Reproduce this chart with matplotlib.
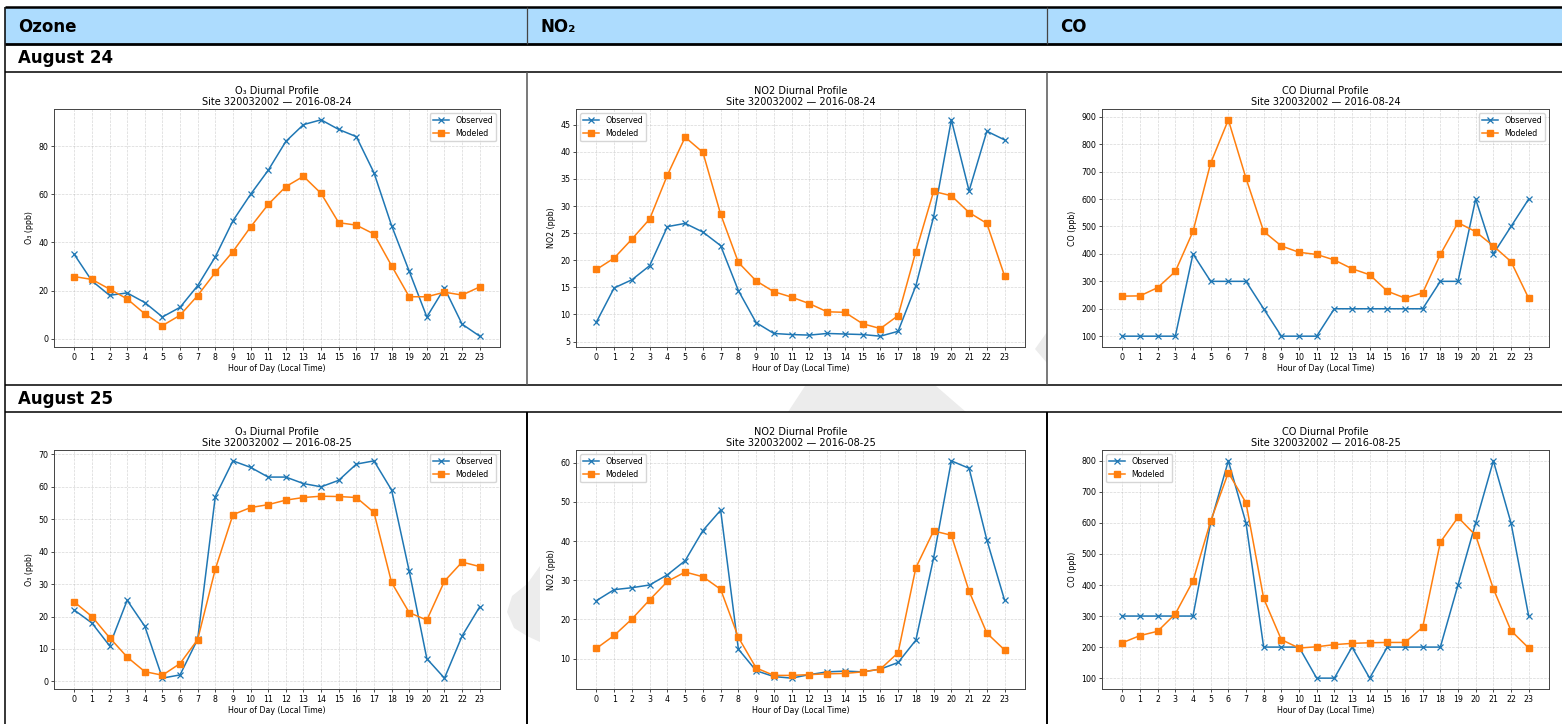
import matplotlib
matplotlib.use("Agg")
import matplotlib.pyplot as plt
from matplotlib.lines import Line2D
from matplotlib.patches import Rectangle, Polygon

# ---------------------------------------------------------------- data
hours = list(range(24))
site_id = "320032002"
dates = ["2016-08-24", "2016-08-25"]
day_labels = ["August 24", "August 25"]
column_headers = ["Ozone", "NO\u2082", "CO"]
species_titles = ["O\u2083", "NO2", "CO"]
y_labels = ["O\u2083 (ppb)", "NO2 (ppb)", "CO (ppb)"]
legend_locs = [["upper right", "upper left", "upper right"],
               ["upper right", "upper left", "upper left"]]

o3_obs_0824 = [35, 24, 18, 19, 15, 9, 13, 22, 34, 49, 60, 70, 82, 89, 91, 87,
               84, 69, 47, 28, 9, 21, 6, 1]
o3_mod_0824 = [25.8, 24.6, 20.6, 16.5, 10.3, 5.4, 9.7, 17.9, 27.5, 36.2, 46.4,
               55.8, 63.2, 67.5, 60.4, 48.2, 47.2, 43.5, 30.3, 17.4, 17.4, 19.3,
               18.1, 21.5]
no2_obs_0824 = [8.6, 14.9, 16.4, 19.0, 26.2, 26.8, 25.2, 22.7, 14.4, 8.5, 6.5,
                6.3, 6.2, 6.5, 6.4, 6.3, 6.0, 6.9, 15.3, 28.0, 45.9, 32.8, 43.8,
                42.2]
no2_mod_0824 = [18.3, 20.4, 23.9, 27.6, 35.7, 42.7, 39.9, 28.5, 19.6, 16.2, 14.2,
                13.2, 12.0, 10.5, 10.4, 8.3, 7.4, 9.8, 21.6, 32.7, 31.9, 28.8,
                26.8, 17.1]
co_obs_0824 = [100, 100, 100, 100, 400, 300, 300, 300, 200, 100, 100, 100, 200,
               200, 200, 200, 200, 200, 300, 300, 600, 400, 500, 600]
co_mod_0824 = [246, 247, 277, 336, 482, 731, 889, 676, 482, 429, 406, 398, 378,
               346, 324, 264, 239, 258, 398, 514, 481, 429, 372, 238]

o3_obs_0825 = [22, 18, 11, 25, 17, 1, 2, 13, 57, 68, 66, 63, 63, 61, 60, 62, 67,
               68, 59, 34, 7, 1, 14, 23]
o3_mod_0825 = [24.5, 20.0, 13.5, 7.5, 3.0, 1.9, 5.5, 12.9, 34.6, 51.4, 53.6,
               54.5, 55.9, 56.7, 57.1, 57.0, 56.7, 52.1, 30.5, 21.2, 18.9, 30.9,
               36.8, 35.4]
no2_obs_0825 = [24.8, 27.6, 28.1, 28.8, 31.4, 35.0, 42.7, 47.9, 12.4, 6.9, 5.4,
                5.0, 5.9, 6.6, 6.8, 6.6, 7.3, 9.0, 14.7, 35.7, 60.5, 58.6, 40.3,
                24.9]
no2_mod_0825 = [12.6, 15.9, 20.1, 25.0, 29.7, 32.1, 30.9, 27.7, 15.4, 7.6, 5.7,
                5.7, 5.9, 6.1, 6.2, 6.6, 7.3, 11.5, 33.2, 42.6, 41.5, 27.2, 16.5,
                12.2]
co_obs_0825 = [300, 300, 300, 300, 300, 600, 800, 600, 200, 200, 200, 100, 100,
               200, 100, 200, 200, 200, 200, 400, 600, 800, 600, 300]
co_mod_0825 = [214, 237, 251, 307, 413, 606, 762, 665, 357, 224, 197, 201, 208,
               212, 214, 215, 215, 264, 538, 618, 560, 388, 253, 197]

observed = [[o3_obs_0824, no2_obs_0824, co_obs_0824],
            [o3_obs_0825, no2_obs_0825, co_obs_0825]]
modeled = [[o3_mod_0824, no2_mod_0824, co_mod_0824],
           [o3_mod_0825, no2_mod_0825, co_mod_0825]]

# ---------------------------------------------------------------- layout
W, H = 1562, 724
fig = plt.figure(figsize=(W / 100, H / 100), dpi=100)
fig.patch.set_facecolor("white")

# page layer in pixel coordinates (table, headings, watermark)
page = fig.add_axes([0, 0, 1, 1], zorder=-1)
page.set_xlim(0, W)
page.set_ylim(H, 0)
page.axis("off")

# faint watermark fragments showing between the chart images
wm = "#ececec"
page.add_patch(Polygon([(788, 412), (805, 386), (936, 386), (966, 412)],
                       closed=True, facecolor=wm, edgecolor="none"))
page.add_patch(Polygon([(507, 612), (512, 596), (527, 584), (540, 566),
                        (540, 642), (527, 636), (514, 628)],
                       closed=True, facecolor=wm, edgecolor="none"))
page.add_patch(Polygon([(1035, 349), (1047, 332), (1047, 363)],
                       closed=True, facecolor=wm, edgecolor="none"))

# header band
page.add_patch(Rectangle((5, 7), W - 5, 37, facecolor="#addcfe",
                         edgecolor="none"))
col_x = [5, 527, 1047]
for x, txt in zip(col_x, column_headers):
    page.text(x + 13, 27, txt, fontsize=12, fontweight="bold",
              va="center", ha="left", color="black")

# table rules
def hline(y, lw, color="black", x0=5, x1=W):
    page.add_line(Line2D([x0, x1], [y, y], lw=lw, color=color,
                         solid_capstyle="butt"))

def vline(x, y0, y1, lw, color="black"):
    page.add_line(Line2D([x, x], [y0, y1], lw=lw, color=color,
                         solid_capstyle="butt"))

hline(7, 1.8)
hline(44, 2.0)
hline(72, 1.1)
hline(385, 1.1)
hline(412, 1.1)
vline(5, 7, H, 1.1)
for x in col_x[1:]:
    vline(x, 7, 44, 0.9, "#444444")
    vline(x, 72, 385, 1.1, "#555555")
    vline(x, 412, H, 1.4, "black")

row_label_y = [58, 399]
for y, txt in zip(row_label_y, day_labels):
    page.text(18, y, txt, fontsize=12, fontweight="bold",
              va="center", ha="left", color="black")

# chart boxes in pixels: (left, top, right, bottom)
col_bounds = [(54, 500), (576, 1025), (1102, 1549)]
row_bounds = [(109, 347), (450, 689)]

base_fs = 5.7
obs_color = "#1f77b4"
mod_color = "#ff7f0e"

for r, (top, bottom) in enumerate(row_bounds):
    for c, (left, right) in enumerate(col_bounds):
        ax = fig.add_axes([left / W, 1 - bottom / H,
                           (right - left) / W, (bottom - top) / H])
        ax.plot(hours, observed[r][c], marker="x", color=obs_color,
                lw=1.1, markersize=4.0, markeredgewidth=0.9,
                label="Observed")
        ax.plot(hours, modeled[r][c], marker="s", color=mod_color,
                lw=1.1, markersize=4.2, label="Modeled")
        ax.set_xticks(hours)
        ax.set_title(f"{species_titles[c]} Diurnal Profile\n"
                     f"Site {site_id} \u2014 {dates[r]}",
                     fontsize=7, pad=3, linespacing=1.05)
        ax.set_xlabel("Hour of Day (Local Time)", fontsize=base_fs,
                      labelpad=2)
        ax.set_ylabel(y_labels[c], fontsize=base_fs, labelpad=3)
        ax.tick_params(labelsize=base_fs, length=2, width=0.5, pad=2)
        ax.grid(True, linestyle="--", linewidth=0.5, alpha=0.5)
        for sp in ax.spines.values():
            sp.set_linewidth(0.7)
            sp.set_color("#444444")
        ax.legend(loc=legend_locs[r][c], fontsize=base_fs)

fig.savefig("out.png", dpi=100, facecolor="white")
